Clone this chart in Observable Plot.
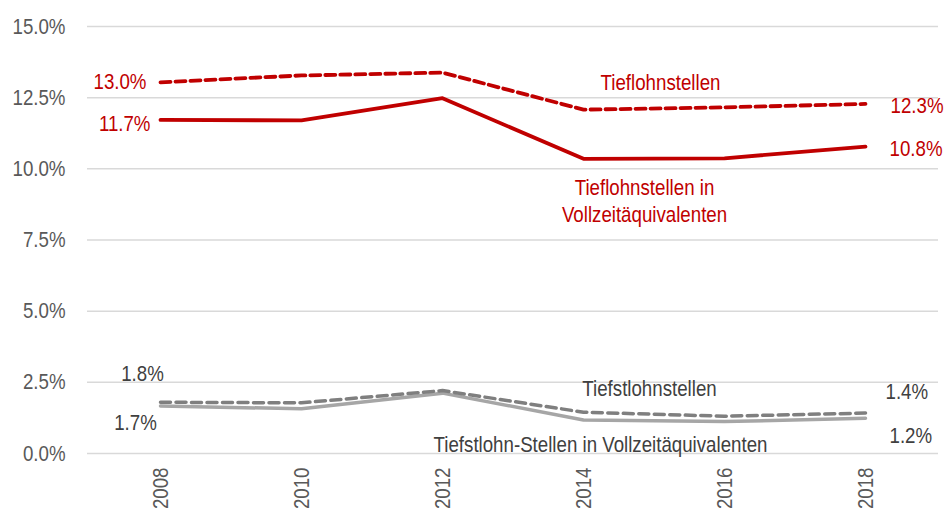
<!DOCTYPE html>
<html>
<head>
<meta charset="utf-8">
<script src="https://cdn.jsdelivr.net/npm/d3@7"></script>
<script src="https://cdn.jsdelivr.net/npm/@observablehq/plot@0.6"></script>
<style>
  html, body { margin: 0; padding: 0; background: #fff; }
  #chart svg { display: block; }
</style>
</head>
<body>
<div id="chart"></div>
<script>
const years = ["2008", "2010", "2012", "2014", "2016", "2018"];
const tieflohn = [13.04, 13.28, 13.38, 12.08, 12.16, 12.28];
const tieflohnVZA = [11.72, 11.70, 12.48, 10.35, 10.37, 10.78];
const tiefstlohn = [1.80, 1.78, 2.21, 1.45, 1.31, 1.42];
const tiefstlohnVZA = [1.67, 1.57, 2.12, 1.18, 1.12, 1.24];
const yTicks = [0, 2.5, 5, 7.5, 10, 12.5, 15];

const seriesNames = [
  "Tieflohnstellen",
  "Tieflohnstellen in\nVollzeitäquivalenten",
  "Tiefstlohnstellen",
  "Tiefstlohn-Stellen in Vollzeitäquivalenten"
];

const FONT = "'Liberation Sans', Arial, sans-serif";
const FS = 22;
const NARROW = 0.85;
const RED = "#c00000";
const GRAY_D = "#7f7f7f";
const GRAY_S = "#a6a6a6";
const TXT_G = "#404040";

const rows = (vals) => years.map((y, i) => ({year: y, value: vals[i]}));
const pct = (v) => v.toFixed(1) + "%";
const first = (vals) => [{year: years[0], value: vals[0], label: pct(vals[0])}];
const last = (vals) => [{year: years[years.length - 1], value: vals[vals.length - 1], label: pct(vals[vals.length - 1])}];
const at = (vals, idx, name) => [{year: years[idx], value: vals[idx], label: name}];

const chart = Plot.plot({
  width: 947,
  height: 510,
  marginLeft: 87,
  marginRight: 9,
  marginTop: 26,
  marginBottom: 57,
  style: {fontFamily: FONT, fontSize: FS + "px", background: "#fff"},
  x: {type: "point", domain: years, padding: 0.5},
  y: {domain: [0, 15]},
  marks: [
    Plot.gridY(yTicks, {stroke: "#d9d9d9", strokeOpacity: 1, strokeWidth: 1.5}),
    Plot.axisY(yTicks, {tickSize: 0, tickPadding: 22, tickFormat: d => d.toFixed(1) + "%", fill: "#595959", fontSize: FS, label: null}),
    Plot.axisX({tickSize: 0, tickPadding: 14, tickRotate: -90, fill: "#595959", fontSize: FS, label: null}),

    Plot.line(rows(tiefstlohnVZA), {x: "year", y: "value", stroke: GRAY_S, strokeWidth: 3.5}),
    Plot.line(rows(tiefstlohn), {x: "year", y: "value", stroke: GRAY_D, strokeWidth: 3.5, strokeDasharray: "10,5.5"}),
    Plot.line(rows(tieflohnVZA), {x: "year", y: "value", stroke: RED, strokeWidth: 3.8}),
    Plot.line(rows(tieflohn), {x: "year", y: "value", stroke: RED, strokeWidth: 3.8, strokeDasharray: "10,5"}),

    // value labels
    Plot.text(first(tieflohn), {x: "year", y: "value", text: "label", fill: RED, fontSize: FS, textAnchor: "end", lineAnchor: "bottom", dx: -14, dy: 6.6}),
    Plot.text(first(tieflohnVZA), {x: "year", y: "value", text: "label", fill: RED, fontSize: FS, textAnchor: "end", lineAnchor: "bottom", dx: -10, dy: 11.4}),
    Plot.text(last(tieflohn), {x: "year", y: "value", text: "label", fill: RED, fontSize: FS, textAnchor: "start", lineAnchor: "bottom", dx: 25, dy: 9}),
    Plot.text(last(tieflohnVZA), {x: "year", y: "value", text: "label", fill: RED, fontSize: FS, textAnchor: "start", lineAnchor: "bottom", dx: 24, dy: 9}),
    Plot.text(first(tiefstlohn), {x: "year", y: "value", text: "label", fill: TXT_G, fontSize: FS, textAnchor: "middle", lineAnchor: "bottom", dx: -18, dy: -21}),
    Plot.text(first(tiefstlohnVZA), {x: "year", y: "value", text: "label", fill: TXT_G, fontSize: FS, textAnchor: "middle", lineAnchor: "bottom", dx: -25, dy: 24}),
    Plot.text(last(tiefstlohn), {x: "year", y: "value", text: "label", fill: TXT_G, fontSize: FS, textAnchor: "start", lineAnchor: "bottom", dx: 20, dy: -14}),
    Plot.text(last(tiefstlohnVZA), {x: "year", y: "value", text: "label", fill: TXT_G, fontSize: FS, textAnchor: "start", lineAnchor: "bottom", dx: 24, dy: 25}),

    // series labels
    Plot.text(at(tieflohn, 3, seriesNames[0]), {x: "year", y: "value", text: "label", fill: RED, fontSize: FS, textAnchor: "middle", lineAnchor: "bottom", dx: 77, dy: -19.7}),
    Plot.text(at(tieflohnVZA, 3, seriesNames[1]), {x: "year", y: "value", text: "label", fill: RED, fontSize: FS, textAnchor: "middle", lineAnchor: "bottom", lineHeight: 1.25, dx: 61, dy: 63.4}),
    Plot.text(at(tiefstlohn, 3, seriesNames[2]), {x: "year", y: "value", text: "label", fill: TXT_G, fontSize: FS, textAnchor: "middle", lineAnchor: "bottom", dx: 66, dy: -16.7}),
    Plot.text(at(tiefstlohnVZA, 3, seriesNames[3]), {x: "year", y: "value", text: "label", fill: TXT_G, fontSize: FS, textAnchor: "middle", lineAnchor: "bottom", dx: 17, dy: 31.7})
  ]
});

// Emulate the condensed (Arial Narrow-like) face of the reference:
// squeeze every text along its own writing direction around its anchor.
for (const t of chart.querySelectorAll("text")) {
  const tr = t.getAttribute("transform") || "";
  t.setAttribute("transform", (tr + ` scale(${NARROW},1)`).trim());
}

document.getElementById("chart").appendChild(chart);
</script>
</body>
</html>
